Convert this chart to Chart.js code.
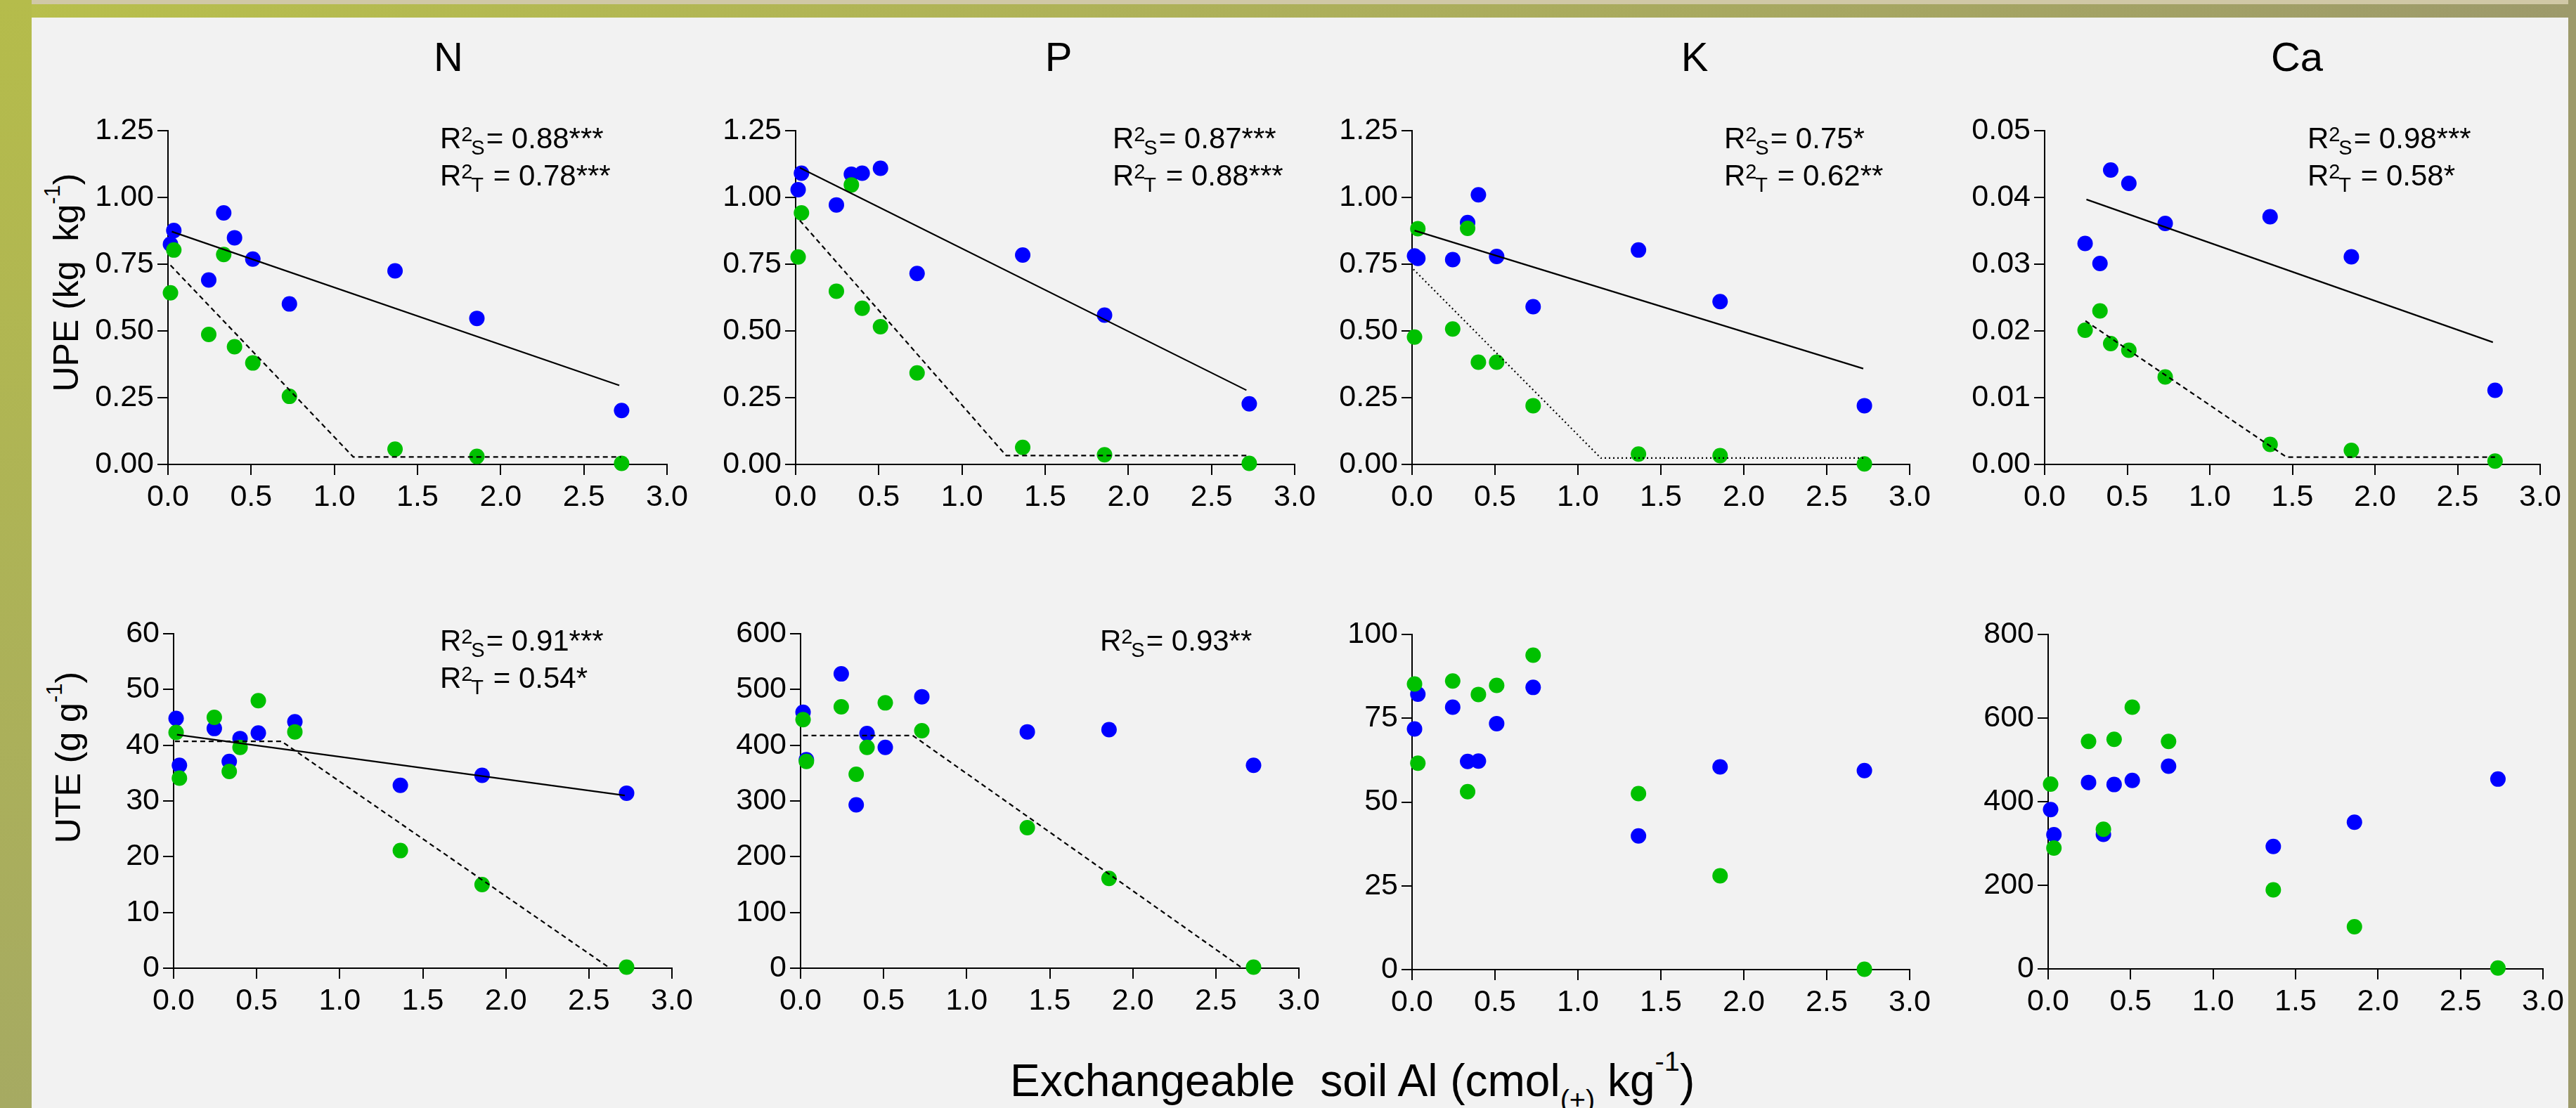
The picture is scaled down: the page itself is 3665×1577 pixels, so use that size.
<!DOCTYPE html>
<html>
<head>
<meta charset="utf-8">
<script src="https://cdn.jsdelivr.net/npm/chart.js@4.4.0/dist/chart.umd.min.js"></script>
<style>
body{margin:0;width:3665px;height:1577px;position:relative;overflow:hidden;background:#f2f2f2;font-family:'Liberation Sans',Arial,sans-serif;color:#000}
.strip{position:absolute;left:0;top:0;width:3665px;height:6px;background:#d0c8a6}
.band{position:absolute;left:0;top:6px;width:3665px;height:19px;background:linear-gradient(to right,#b8bf4c,#acae5c 55%,#9d9a6b)}
.lborder{position:absolute;left:0;top:0;width:45px;height:1577px;background:linear-gradient(to bottom,#b5bc4b,#a6aa62)}
.rborder{position:absolute;right:0;top:0;width:11px;height:1577px;background:#9d9a6b}
.panel{position:absolute}
.ptitle{position:absolute;width:200px;text-align:center;font-size:58px;line-height:58px;top:52px}
.ytitle{position:absolute;width:600px;height:60px;line-height:60px;text-align:center;font-size:50px;transform:rotate(-90deg);white-space:nowrap}
.ytitle span,.xtitle span{position:relative;font-size:0.62em;line-height:0}
.xtitle{position:absolute;left:1437px;top:1503px;font-size:64px;line-height:70px;white-space:pre}
</style>
</head>
<body>
<div class="strip"></div>
<div class="band"></div>
<div class="lborder"></div>
<div class="rborder"></div>

<div class="ptitle" style="left:538px">N</div>
<div class="ptitle" style="left:1406px">P</div>
<div class="ptitle" style="left:2311px">K</div>
<div class="ptitle" style="left:3168px">Ca</div>

<div class="ytitle" style="left:-206px;top:372px">UPE (kg&nbsp; kg<span style="top:-0.85em">-1</span>)</div>
<div class="ytitle" style="left:-203px;top:1048px">UTE (g g<span style="top:-0.85em">-1</span>)</div>
<div class="xtitle">Exchangeable  soil Al (cmol<span style="top:0.45em">(+)</span> kg<span style="top:-0.9em">-1</span>)</div>

<div class="panel" id="upeN"><canvas></canvas></div>
<div class="panel" id="upeP"><canvas></canvas></div>
<div class="panel" id="upeK"><canvas></canvas></div>
<div class="panel" id="upeCa"><canvas></canvas></div>
<div class="panel" id="uteN"><canvas></canvas></div>
<div class="panel" id="uteP"><canvas></canvas></div>
<div class="panel" id="uteK"><canvas></canvas></div>
<div class="panel" id="uteCa"><canvas></canvas></div>

<script>
// exchangeable soil Al (cmol(+) kg-1) of the 10 soils
const AL = [0.015, 0.035, 0.245, 0.335, 0.40, 0.51, 0.73, 1.365, 1.857, 2.727];

// tick labels
const xTicks = [0, 0.5, 1.0, 1.5, 2.0, 2.5, 3.0];
const upeTicks = [0, 0.25, 0.5, 0.75, 1.0, 1.25];
const upeCaTicks = [0, 0.01, 0.02, 0.03, 0.04, 0.05];
const uteNTicks = [0, 10, 20, 30, 40, 50, 60];
const utePTicks = [0, 100, 200, 300, 400, 500, 600];
const uteKTicks = [0, 25, 50, 75, 100];
const uteCaTicks = [0, 200, 400, 600, 800];

// UPE (kg kg-1) - S = blue, T = green
const upeN_S = [0.825, 0.876, 0.691, 0.942, 0.849, 0.769, 0.601, 0.725, 0.547, 0.202];
const upeN_T = [0.643, 0.803, 0.487, 0.786, 0.441, 0.380, 0.255, 0.057, 0.030, 0.004];
const upeP_S = [1.029, 1.091, 0.972, 1.087, 1.091, 1.109, 0.715, 0.784, 0.559, 0.227];
const upeP_T = [0.777, 0.942, 0.649, 1.047, 0.585, 0.516, 0.343, 0.064, 0.036, 0.004];
const upeK_S = [0.781, 0.772, 0.767, 0.906, 1.010, 0.779, 0.591, 0.803, 0.610, 0.220];
const upeK_T = [0.477, 0.883, 0.507, 0.884, 0.383, 0.383, 0.220, 0.039, 0.033, 0.002];
const upeCa_S = [null, null, 0.0331, 0.0301, 0.0441, 0.0421, 0.0361, 0.0371, 0.0311, 0.0111];
const upeCa_T = [null, null, 0.0201, 0.0230, 0.0181, 0.0171, 0.0131, 0.0030, 0.0021, 0.0005];

// UTE (g g-1)
const uteN_S = [44.8, 36.4, 43.0, 37.1, 41.2, 42.2, 44.2, 32.8, 34.6, 31.4];
const uteN_T = [42.3, 34.1, 45.0, 35.3, 39.6, 48.0, 42.4, 21.1, 15.0, 0.2];
const uteP_S = [459, 374, 528, 293, 421, 396, 487, 424, 428, 364];
const uteP_T = [446, 371, 469, 348, 396, 476, 426, 252, 161, 2];
const uteK_S = [71.8, 82.2, 78.3, 62.1, 62.2, 73.4, 84.2, 39.9, 60.5, 59.4];
const uteK_T = [85.2, 61.6, 86.1, 53.1, 82.1, 84.8, 93.8, 52.5, 28.0, 0.1];
const uteCa_S = [381, 321, 446, 322, 441, 451, 485, 293, 351, 454];
const uteCa_T = [442, 289, 544, 334, 549, 626, 544, 189, 101, 2];

// fitted models [x, y]: linear for S, linear-plateau for T
const upeN_fitS = [[0.023, 0.872], [2.713, 0.296]];
const upeN_fitT = [[0.015, 0.746], [1.114, 0.028], [2.723, 0.028]];
const upeP_fitS = [[0.025, 1.111], [2.71, 0.278]];
const upeP_fitT = [[0.025, 0.914], [1.266, 0.033], [2.72, 0.033]];
const upeK_fitS = [[0.015, 0.876], [2.72, 0.359]];
const upeK_fitT = [[0.008, 0.731], [1.138, 0.024], [2.725, 0.024]];
const upeCa_fitS = [[0.253, 0.0397], [2.714, 0.0183]];
const upeCa_fitT = [[0.247, 0.0215], [1.464, 0.0011], [2.727, 0.0011]];
const uteN_fitS = [[0.02, 41.9], [2.716, 31.0]];
const uteN_fitT = [[0.008, 40.7], [0.65, 40.7], [2.627, 0]];
const uteP_fitT = [[0.015, 417.5], [0.675, 417.5], [2.66, 0]];

const FONT = "'Liberation Sans', Arial, sans-serif";
Chart.defaults.font.family = FONT;
Chart.defaults.color = '#000';

const BLUE = '#0000ff', GREEN = '#00c000';
const PAD_L = 230, PAD_T = 160, PAD_R = 60, PAD_B = 90;

// R² labels drawn on the canvas
const rsqPlugin = {
  id: 'rsq',
  afterDatasetsDraw(chart, args, opts) {
    if (!opts.lines) return;
    const ctx = chart.ctx, a = chart.chartArea;
    ctx.save();
    ctx.fillStyle = '#000';
    ctx.textAlign = 'left';
    ctx.textBaseline = 'alphabetic';
    opts.lines.forEach((ln, i) => {
      const x = a.left + opts.dx, y = a.top + opts.dy + i * 53;
      ctx.font = '42px ' + FONT;
      ctx.fillText('R', x, y);
      const rw = ctx.measureText('R').width;
      ctx.font = '29px ' + FONT;
      ctx.fillText('2', x + rw, y - 10);
      ctx.fillText(ln[0], x + rw + 14, y + 9);
      const sw = ctx.measureText(ln[0]).width;
      ctx.font = '42px ' + FONT;
      ctx.fillText(ln[1], x + rw + 16 + sw, y);
    });
    ctx.restore();
  }
};

function pts(ys) {
  return AL.map((x, i) => ({ x: x, y: ys[i] })).filter(p => p.y !== null);
}

function fitLine(pairs, dash) {
  return {
    data: pairs.map(p => ({ x: p[0], y: p[1] })),
    showLine: true, pointRadius: 0, borderColor: '#000', borderWidth: 2.2,
    borderDash: dash, clip: false
  };
}

function dots(ys, color) {
  return {
    data: pts(ys), pointRadius: 11, pointHoverRadius: 11, borderWidth: 0,
    backgroundColor: color, pointBorderWidth: 0, showLine: false, clip: false
  };
}

function makePanel(p) {
  const div = document.getElementById(p.id);
  const W = p.box.r - p.box.l + PAD_L + PAD_R;
  const H = p.box.b - p.box.t + PAD_T + PAD_B;
  div.style.left = (p.box.l - PAD_L) + 'px';
  div.style.top = (p.box.t - PAD_T) + 'px';
  div.style.width = W + 'px';
  div.style.height = H + 'px';
  const cv = div.querySelector('canvas');
  cv.width = W; cv.height = H;
  cv.style.width = W + 'px'; cv.style.height = H + 'px';

  const datasets = [];
  if (p.fitS) datasets.push(fitLine(p.fitS, []));
  if (p.fitT) datasets.push(fitLine(p.fitT, p.dash));
  datasets.push(dots(p.T, GREEN));
  datasets.push(dots(p.S, BLUE));

  const axisCommon = {
    type: 'linear',
    grid: { display: true, drawOnChartArea: false, drawTicks: true, tickLength: 15,
            color: '#000', tickColor: '#000', lineWidth: 2, tickWidth: 2 },
    border: { display: true, color: '#000', width: 2 }
  };

  new Chart(cv, {
    type: 'scatter',
    data: { datasets },
    plugins: [rsqPlugin],
    options: {
      responsive: false,
      animation: false,
      events: [],
      layout: { padding: { left: 0, top: PAD_T, right: PAD_R, bottom: 0 } },
      plugins: { legend: { display: false }, tooltip: { enabled: false }, rsq: p.rsq || {} },
      scales: {
        x: Object.assign({}, axisCommon, {
          position: 'bottom', min: 0, max: 3,
          afterBuildTicks: s => { s.ticks = xTicks.map(v => ({ value: v })); },
          afterFit: s => { s.height = PAD_B; },
          ticks: { font: { size: 43 }, color: '#000', padding: 6, maxRotation: 0,
                   callback: v => Number(v).toFixed(1) }
        }),
        y: Object.assign({}, axisCommon, {
          position: 'left', min: 0, max: p.yt[p.yt.length - 1],
          afterBuildTicks: s => { s.ticks = p.yt.map(v => ({ value: v })); },
          afterFit: s => { s.width = PAD_L; },
          ticks: { font: { size: 43 }, color: '#000', padding: 5,
                   callback: v => Number(v).toFixed(p.dec) }
        })
      }
    }
  });
}

const panels = [
  { id: 'upeN', box: { l: 239, t: 186, r: 949, b: 661 }, yt: upeTicks, dec: 2,
    S: upeN_S, T: upeN_T, fitS: upeN_fitS, fitT: upeN_fitT, dash: [7, 5],
    rsq: { dx: 387, dy: 25, lines: [['S', '= 0.88***'], ['T', ' = 0.78***']] } },
  { id: 'upeP', box: { l: 1132, t: 186, r: 1842, b: 661 }, yt: upeTicks, dec: 2,
    S: upeP_S, T: upeP_T, fitS: upeP_fitS, fitT: upeP_fitT, dash: [7, 5],
    rsq: { dx: 451, dy: 25, lines: [['S', '= 0.87***'], ['T', ' = 0.88***']] } },
  { id: 'upeK', box: { l: 2009, t: 186, r: 2717, b: 661 }, yt: upeTicks, dec: 2,
    S: upeK_S, T: upeK_T, fitS: upeK_fitS, fitT: upeK_fitT, dash: [2, 4],
    rsq: { dx: 444, dy: 25, lines: [['S', '= 0.75*'], ['T', ' = 0.62**']] } },
  { id: 'upeCa', box: { l: 2909, t: 186, r: 3614, b: 661 }, yt: upeCaTicks, dec: 2,
    S: upeCa_S, T: upeCa_T, fitS: upeCa_fitS, fitT: upeCa_fitT, dash: [7, 5],
    rsq: { dx: 374, dy: 25, lines: [['S', '= 0.98***'], ['T', ' = 0.58*']] } },
  { id: 'uteN', box: { l: 247, t: 902, r: 956, b: 1378 }, yt: uteNTicks, dec: 0,
    S: uteN_S, T: uteN_T, fitS: uteN_fitS, fitT: uteN_fitT, dash: [7, 5],
    rsq: { dx: 379, dy: 24, lines: [['S', '= 0.91***'], ['T', ' = 0.54*']] } },
  { id: 'uteP', box: { l: 1139, t: 902, r: 1848, b: 1378 }, yt: utePTicks, dec: 0,
    S: uteP_S, T: uteP_T, fitT: uteP_fitT, dash: [7, 5],
    rsq: { dx: 426, dy: 24, lines: [['S', '= 0.93**']] } },
  { id: 'uteK', box: { l: 2009, t: 903, r: 2717, b: 1380 }, yt: uteKTicks, dec: 0,
    S: uteK_S, T: uteK_T },
  { id: 'uteCa', box: { l: 2914, t: 903, r: 3618, b: 1379 }, yt: uteCaTicks, dec: 0,
    S: uteCa_S, T: uteCa_T }
];

panels.forEach(makePanel);
</script>
</body>
</html>
